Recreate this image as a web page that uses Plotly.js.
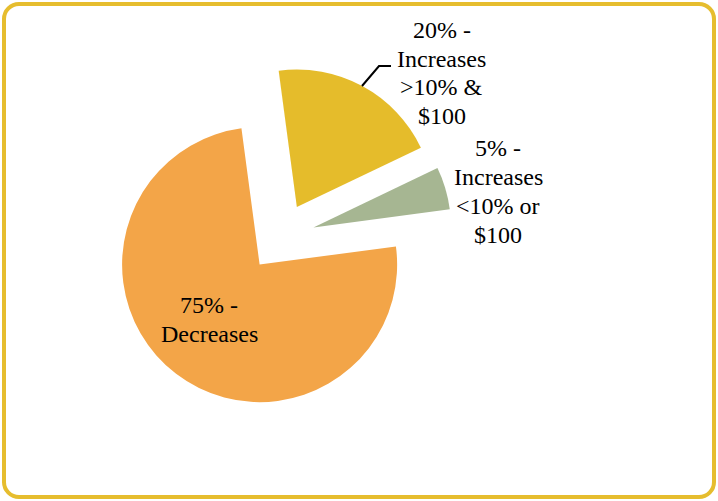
<!DOCTYPE html>
<html>
<head>
<meta charset="utf-8">
<script src="https://cdn.plot.ly/plotly-3.0.1.min.js"></script>
<style>
  html, body { margin: 0; padding: 0; background: #ffffff; }
  #wrap { position: relative; width: 718px; height: 501px; overflow: hidden; }
  #chart { position: absolute; left: 0; top: 0; width: 718px; height: 501px; }
  #chart text.annotation-text { font-family: 'Liberation Serif', 'Times New Roman', serif !important; }
  #frame { position: absolute; left: 2px; top: 2px; width: 714px; height: 497px; box-sizing: border-box;
           border: 4px solid #E6BD2E; border-radius: 17px; pointer-events: none; }
</style>
</head>
<body>
<div id="wrap">
  <div id="chart"></div>
  <div id="frame"></div>
</div>
<script>
// Data
const categories = ["Increases >10% & $100", "Increases <10% or $100", "Decreases"];
const labelLines = [["Increases", ">10% &", "$100"], ["Increases", "<10% or", "$100"], ["Decreases"]];
const percents = [20, 5, 75];
const colors = ["#E5BC2B", "#A6B692", "#F3A548"];

const W = 718, H = 501;
const px = x => x / W;
const py = y => 1 - y / H;

const trace = {
  type: "pie",
  labels: categories,
  values: percents,
  sort: false,
  direction: "clockwise",
  rotation: -7.6,
  pull: [0.25, 0.25, 0.25],
  marker: { colors: colors, line: { width: 0 } },
  textinfo: "none",
  hoverinfo: "label+percent",
  showlegend: false,
  domain: { x: [px(108.6), px(452.4)], y: [py(409.2), py(65.4)] }
};

// label placement: center x, first baseline, line spacing (pixels)
const labelPos = [[441.5, 38, 28.4], [498.3, 155.7, 28.9], [209.5, 312.3, 29.4]];
const FS = 24;
const annotations = [];
percents.forEach((p, i) => {
  const lines = [p + "% -"].concat(labelLines[i]);
  lines.forEach((t, j) => {
    const base = labelPos[i][1] + j * labelPos[i][2];
    annotations.push({
      x: px(labelPos[i][0]), y: py(base - 7.5),
      xref: "paper", yref: "paper",
      xanchor: "center", yanchor: "middle",
      showarrow: false,
      text: t,
      font: { family: "Liberation Serif", size: FS, color: "#000000" }
    });
  });
});

const layout = {
  width: W, height: H,
  margin: { l: 0, r: 0, t: 0, b: 0 },
  paper_bgcolor: "#ffffff",
  showlegend: false,
  font: { family: "Liberation Serif" },
  annotations: annotations,
  shapes: [{
    type: "path", xref: "paper", yref: "paper",
    path: "M " + px(362) + "," + py(86) + " L " + px(379) + "," + py(66) + " L " + px(391) + "," + py(66),
    line: { color: "#000000", width: 2 }
  }]
};

function draw() {
  Plotly.newPlot("chart", [trace], layout, { displayModeBar: false, staticPlot: true });
}
if (document.fonts && document.fonts.load) {
  document.fonts.load("24px 'Liberation Serif'").then(draw, draw);
} else {
  draw();
}
</script>
</body>
</html>
